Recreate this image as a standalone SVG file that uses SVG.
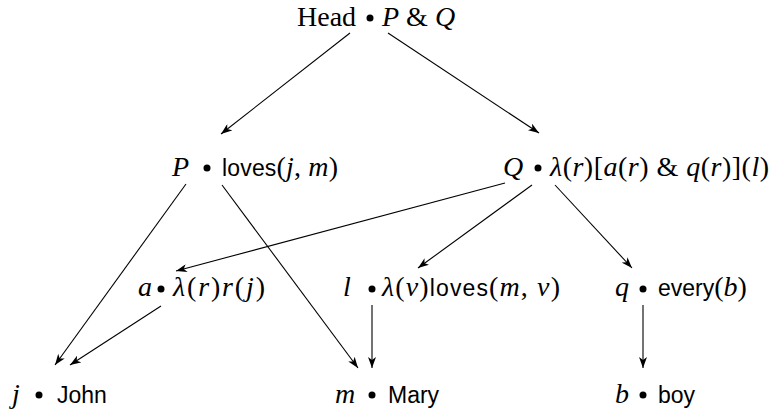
<svg xmlns="http://www.w3.org/2000/svg" width="772" height="412" viewBox="0 0 772 412">
<style>
.s{font-family:"Liberation Serif","Times New Roman",serif;font-size:28px;fill:#000}
.i{font-style:italic}
.ss{font-family:"Liberation Sans",Arial,sans-serif;font-size:23px}
.e{stroke:#000;stroke-width:1.1;fill:none;marker-end:url(#ah)}
.d{fill:#000}
</style>
<defs>
<marker id="ah" markerUnits="userSpaceOnUse" markerWidth="12" markerHeight="8" refX="11" refY="4" orient="auto">
<path d="M0,0 L11,4 L0,8 L3,4 z" fill="#000"/>
</marker>
</defs>
<g id="connectors">
<line class="e" x1="350" y1="33" x2="221" y2="134"/>
<line class="e" x1="388" y1="33" x2="539" y2="133"/>
<line class="e" x1="186" y1="184" x2="55" y2="365"/>
<line class="e" x1="222" y1="185" x2="358" y2="368"/>
<line class="e" x1="505" y1="183" x2="176" y2="271"/>
<line class="e" x1="532" y1="185" x2="418" y2="268"/>
<line class="e" x1="555" y1="185" x2="632" y2="268"/>
<line class="e" x1="161" y1="306" x2="70" y2="365"/>
<line class="e" x1="372" y1="305" x2="372" y2="368"/>
<line class="e" x1="643" y1="305" x2="643" y2="368"/>
</g>
<g id="head">
<text class="s" x="297" y="26">Head</text>
<circle class="d" cx="370" cy="18" r="3.5"/>
<text class="s" x="382" y="26"><tspan class="i">P</tspan> &amp; <tspan class="i">Q</tspan></text>
</g>
<g id="P">
<text class="s i" x="172" y="176">P</text>
<circle class="d" cx="207" cy="168" r="3.5"/>
<text class="s" x="222" y="176" textLength="116" lengthAdjust="spacing"><tspan class="ss">loves</tspan>(<tspan class="i">j</tspan>, <tspan class="i">m</tspan>)</text>
</g>
<g id="Q">
<text class="s i" x="503" y="176">Q</text>
<circle class="d" cx="538" cy="168" r="3.5"/>
<text class="s" x="550" y="176" textLength="219" lengthAdjust="spacing"><tspan class="i">λ</tspan>(<tspan class="i">r</tspan>)[<tspan class="i">a</tspan>(<tspan class="i">r</tspan>) &amp; <tspan class="i">q</tspan>(<tspan class="i">r</tspan>)](<tspan class="i">l</tspan>)</text>
</g>
<g id="a">
<text class="s i" x="138" y="296">a</text>
<circle class="d" cx="161" cy="289" r="3.5"/>
<text class="s" x="173" y="296" textLength="92" lengthAdjust="spacing"><tspan class="i">λ</tspan>(<tspan class="i">r</tspan>)<tspan class="i">r</tspan>(<tspan class="i">j</tspan>)</text>
</g>
<g id="l">
<text class="s i" x="343" y="296">l</text>
<circle class="d" cx="372" cy="289" r="3.5"/>
<text class="s" x="382" y="296" textLength="178" lengthAdjust="spacing"><tspan class="i">λ</tspan>(<tspan class="i">v</tspan>)<tspan class="ss">loves</tspan>(<tspan class="i">m</tspan>, <tspan class="i">v</tspan>)</text>
</g>
<g id="q">
<text class="s i" x="615" y="296">q</text>
<circle class="d" cx="643" cy="289" r="3.5"/>
<text class="s" x="658" y="296"><tspan class="ss">every</tspan>(<tspan class="i">b</tspan>)</text>
</g>
<g id="j">
<text class="s i" x="12" y="403">j</text>
<circle class="d" cx="39" cy="395" r="3.5"/>
<text class="s ss" x="57" y="403">John</text>
</g>
<g id="m">
<text class="s i" x="335" y="403">m</text>
<circle class="d" cx="372" cy="395" r="3.5"/>
<text class="s ss" x="388" y="403">Mary</text>
</g>
<g id="b">
<text class="s i" x="615" y="403">b</text>
<circle class="d" cx="643" cy="395" r="3.5"/>
<text class="s ss" x="658" y="403">boy</text>
</g>
</svg>
